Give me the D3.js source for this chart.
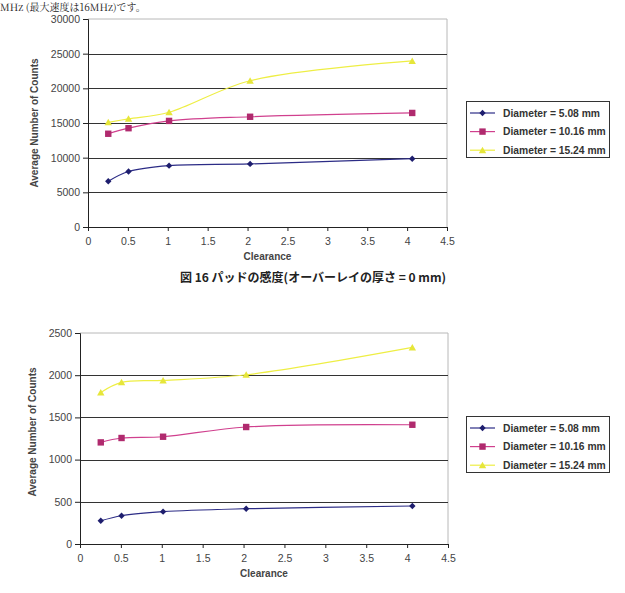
<!DOCTYPE html>
<html><head><meta charset="utf-8">
<script src="https://cdn.jsdelivr.net/npm/d3@7"></script>
<style>
body{margin:0;background:#fff;}
svg{display:block;}
</style></head>
<body>
<svg id="c" width="625" height="593"></svg>
<script>
const clearance = [0.254, 0.508, 1.016, 2.032, 4.064];
const seriesNames = ["Diameter = 5.08 mm", "Diameter = 10.16 mm", "Diameter = 15.24 mm"];
const chart1D508 = [6600, 8000, 8850, 9100, 9850];
const chart1D1016 = [13450, 14250, 15300, 15900, 16450];
const chart1D1524 = [15100, 15600, 16550, 21100, 23950];
const chart2D508 = [275, 335, 383, 418, 450];
const chart2D1016 = [1204, 1256, 1271, 1386, 1413];
const chart2D1524 = [1796, 1915, 1938, 2005, 2329];
const xTicks = [0, 0.5, 1, 1.5, 2, 2.5, 3, 3.5, 4, 4.5];
const yTicks1 = [0, 5000, 10000, 15000, 20000, 25000, 30000];
const yTicks2 = [0, 500, 1000, 1500, 2000, 2500];
const caption1 = "図 16 パッドの感度(オーバーレイの厚さ = 0 mm)";
const topText = "MHz (最大速度は16MHz)です。";

const lineColors = ["#2c2c86", "#d0408e", "#eeee44"];
const markColors = ["#1e1e6e", "#b02a6e", "#e6e63a"];
const svg = d3.select("#c");
const font = "'Liberation Sans', Arial, sans-serif";

svg.append("text").attr("x", 0).attr("y", 11)
  .attr("font-family", "'Noto Serif CJK JP','Noto Sans CJK JP',serif")
  .attr("font-size", 10).attr("fill", "#222").text(topText);

function drawChart(cfg) {
  const g = svg.append("g");
  const x = d3.scaleLinear().domain([0, 4.5]).range([cfg.left, cfg.right]);
  const y = d3.scaleLinear().domain([0, cfg.ymax]).range([cfg.bottom, cfg.top]);

  g.append("path")
    .attr("d", `M${cfg.left},${cfg.top}H${cfg.right}V${cfg.bottom}`)
    .attr("fill", "none").attr("stroke", "#b8b8b8").attr("stroke-width", 1);

  g.selectAll(".grid").data(cfg.yTicks.filter(v => v > 0 && v < cfg.ymax)).enter()
    .append("line")
    .attr("x1", cfg.left).attr("x2", cfg.right)
    .attr("y1", d => Math.round(y(d)) + 0.5).attr("y2", d => Math.round(y(d)) + 0.5)
    .attr("stroke", "#333").attr("stroke-width", 1.2);

  const yAxis = d3.axisLeft(y).tickValues(cfg.yTicks).tickSize(5).tickPadding(3).tickFormat(d3.format("d"));
  const ya = g.append("g").attr("transform", `translate(${cfg.left},0)`).call(yAxis);
  const xAxis = d3.axisBottom(x).tickValues(xTicks).tickSize(4).tickPadding(7).tickFormat(d => String(d));
  const xa = g.append("g").attr("transform", `translate(0,${cfg.bottom})`).call(xAxis);
  [ya, xa].forEach(a => {
    a.select(".domain").attr("stroke", "#222");
    a.selectAll(".tick line").attr("stroke", "#222");
    a.selectAll("text").attr("font-family", font).attr("font-size", 10.5).attr("fill", "#444");
  });

  g.append("text").attr("x", (cfg.left + cfg.right) / 2).attr("y", cfg.bottom + 33)
    .attr("text-anchor", "middle").attr("font-family", font).attr("font-size", 10)
    .attr("font-weight", "bold").attr("fill", "#444").text("Clearance");
  g.append("text")
    .attr("transform", `translate(${cfg.ytitleX},${cfg.ytitleY}) rotate(-90)`)
    .attr("text-anchor", "middle").attr("font-family", font).attr("font-size", 10)
    .attr("font-weight", "bold").attr("fill", "#444").text("Average Number of Counts");

  const line = d3.line().x((d, i) => x(clearance[i])).y(d => y(d)).curve(d3.curveCatmullRom.alpha(0.5));
  cfg.series.forEach((s, si) => {
    g.append("path").attr("d", line(s)).attr("fill", "none")
      .attr("stroke", lineColors[si]).attr("stroke-width", 1.2);
    s.forEach((v, i) => drawMarker(g, si, x(clearance[i]), y(v)));
  });

  const lg = g.append("g");
  lg.append("rect").attr("x", cfg.legX + 0.5).attr("y", cfg.legY + 0.5)
    .attr("width", 143).attr("height", 56).attr("fill", "#fff")
    .attr("stroke", "#333").attr("stroke-width", 1);
  seriesNames.forEach((n, i) => {
    const yy = cfg.legY + 12 + i * 18.6;
    lg.append("line").attr("x1", cfg.legX + 4).attr("x2", cfg.legX + 29)
      .attr("y1", yy).attr("y2", yy).attr("stroke", lineColors[i]).attr("stroke-width", 1.2);
    drawMarker(lg, i, cfg.legX + 16.5, yy);
    lg.append("text").attr("x", cfg.legX + 37).attr("y", yy + 3.5)
      .attr("font-family", font).attr("font-size", 10.3).attr("font-weight", "bold")
      .attr("fill", "#333").text(n);
  });
}

function drawMarker(g, si, cx, cy) {
  if (si === 0) {
    g.append("path").attr("d", `M${cx},${cy - 3.2}L${cx + 3.2},${cy}L${cx},${cy + 3.2}L${cx - 3.2},${cy}Z`)
      .attr("fill", markColors[0]);
  } else if (si === 1) {
    g.append("rect").attr("x", cx - 3.2).attr("y", cy - 3.2).attr("width", 6.4).attr("height", 6.4)
      .attr("fill", markColors[1]);
  } else {
    g.append("path").attr("d", `M${cx},${cy - 3.5}L${cx + 3.7},${cy + 3}L${cx - 3.7},${cy + 3}Z`)
      .attr("fill", markColors[2]);
  }
}

drawChart({left: 88, right: 447, top: 19, bottom: 227, ymax: 30000, yTicks: yTicks1,
  series: [chart1D508, chart1D1016, chart1D1524], ytitleX: 38, ytitleY: 123, legX: 466, legY: 101});
drawChart({left: 80, right: 448, top: 333, bottom: 544, ymax: 2500, yTicks: yTicks2,
  series: [chart2D508, chart2D1016, chart2D1524], ytitleX: 36, ytitleY: 432, legX: 466, legY: 416});

svg.append("text").attr("x", 313).attr("y", 282).attr("text-anchor", "middle")
  .attr("font-family", "'Noto Sans CJK JP', sans-serif").attr("font-size", 12)
  .attr("font-weight", "bold").attr("fill", "#222").text(caption1);
</script>
</body></html>
